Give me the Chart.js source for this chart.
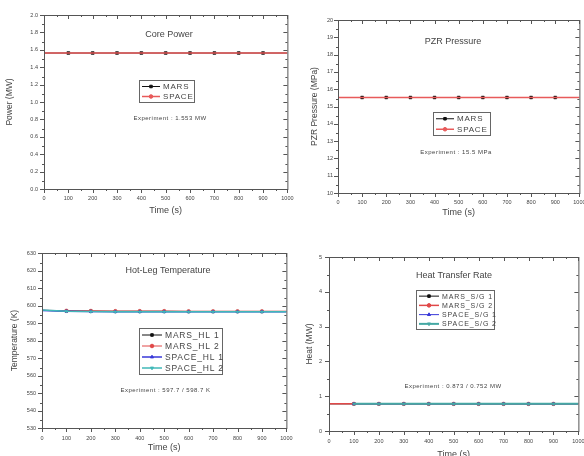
<!DOCTYPE html>
<html>
<head>
<meta charset="utf-8">
<script src="https://cdn.jsdelivr.net/npm/chart.js@4.4.0/dist/chart.umd.min.js"></script>
<style>
  html, body { margin: 0; padding: 0; background: #fff; overflow: hidden; }
  body { width: 584px; height: 456px; position: relative; }
  canvas { position: absolute; }
</style>
</head>
<body>
<canvas id="chartPower" width="300" height="224" style="left:0;top:0"></canvas>
<canvas id="chartPzr" width="296" height="224" style="left:296px;top:0"></canvas>
<canvas id="chartHotLeg" width="300" height="240" style="left:0;top:224px"></canvas>
<canvas id="chartHeat" width="296" height="240" style="left:296px;top:224px"></canvas>
<script>
// time axis (s)
const timeLabels = [0, 100, 200, 300, 400, 500, 600, 700, 800, 900, 1000];

// Core power (MW)
const marsPower  = [1.563, 1.563, 1.563, 1.563, 1.563, 1.563, 1.563, 1.563, 1.563, 1.563, 1.563];
const spacePower = [1.563, 1.563, 1.563, 1.563, 1.563, 1.563, 1.563, 1.563, 1.563, 1.563, 1.563];

// PZR pressure (MPa)
const marsPzr  = [15.52, 15.52, 15.52, 15.52, 15.52, 15.52, 15.52, 15.52, 15.52, 15.52, 15.52];
const spacePzr = [15.52, 15.52, 15.52, 15.52, 15.52, 15.52, 15.52, 15.52, 15.52, 15.52, 15.52];

// Hot-leg temperature (K)
const marsHL1  = [597.2, 596.9, 596.8, 596.7, 596.7, 596.7, 596.6, 596.6, 596.6, 596.6, 596.6];
const marsHL2  = [597.3, 597.0, 596.9, 596.8, 596.8, 596.8, 596.7, 596.7, 596.7, 596.7, 596.7];
const spaceHL1 = [597.1, 596.7, 596.5, 596.4, 596.4, 596.4, 596.4, 596.4, 596.4, 596.4, 596.4];
const spaceHL2 = [597.4, 596.7, 596.5, 596.4, 596.4, 596.4, 596.4, 596.4, 596.4, 596.4, 596.4];

// Heat transfer rate (MW)
const marsSG1  = [0.78, 0.78, 0.78, 0.78, 0.78, 0.78, 0.78, 0.78, 0.78, 0.78, 0.78];
const marsSG2  = [0.78, 0.78, 0.78, 0.78, 0.78, 0.78, 0.78, 0.78, 0.78, 0.78, 0.78];
const spaceSG1 = [null, 0.78, 0.78, 0.78, 0.78, 0.78, 0.78, 0.78, 0.78, 0.78, 0.78];
const spaceSG2 = [null, 0.78, 0.78, 0.78, 0.78, 0.78, 0.78, 0.78, 0.78, 0.78, 0.78];

const FONT = "'Liberation Sans', Arial, sans-serif";
const TEXT = '#444';

// frame with origin-style ticks, title, experiment note and boxed legend
const framePlugin = {
  id: 'frame',
  afterDatasetsDraw(chart, args, opts) {
    const { ctx, chartArea: a, scales: { x, y } } = chart;
    ctx.save();
    ctx.strokeStyle = '#555';
    ctx.lineWidth = 1;
    ctx.strokeRect(a.left + 0.5, a.top + 0.5, a.right - a.left, a.bottom - a.top);

    ctx.beginPath();
    const xs = x.ticks.map(t => Math.round(x.getPixelForValue(t.value)) + 0.5);
    xs.forEach((px, i) => {
      ctx.moveTo(px, a.bottom); ctx.lineTo(px, a.bottom + 4);
      ctx.moveTo(px, a.top); ctx.lineTo(px, a.top + 4);
      if (i < xs.length - 1) {
        const m = Math.round((px + xs[i + 1]) / 2) + 0.5;
        ctx.moveTo(m, a.bottom); ctx.lineTo(m, a.bottom + 2);
        ctx.moveTo(m, a.top); ctx.lineTo(m, a.top + 2);
      }
    });
    const ys = y.ticks.map(t => Math.round(y.getPixelForValue(t.value)) + 0.5);
    ys.forEach((py, i) => {
      ctx.moveTo(a.left, py); ctx.lineTo(a.left - 4, py);
      ctx.moveTo(a.right, py); ctx.lineTo(a.right - 4, py);
      if (i < ys.length - 1) {
        const m = Math.round((py + ys[i + 1]) / 2) + 0.5;
        ctx.moveTo(a.left, m); ctx.lineTo(a.left - 2, m);
        ctx.moveTo(a.right, m); ctx.lineTo(a.right - 2, m);
      }
    });
    ctx.stroke();

    ctx.fillStyle = TEXT;
    ctx.textAlign = 'center';
    ctx.textBaseline = 'middle';
    ctx.font = '9px ' + FONT;
    ctx.fillText(opts.title, opts.titlePos[0], opts.titlePos[1]);
    ctx.font = '6px ' + FONT;
    ctx.letterSpacing = '0.5px';
    ctx.fillText(opts.note, opts.notePos[0], opts.notePos[1]);

    const lg = opts.legend;
    const sets = chart.data.datasets;
    ctx.strokeStyle = '#666';
    ctx.strokeRect(lg.x + 0.5, lg.y + 0.5, lg.w, lg.rowH * sets.length + 2);
    ctx.font = lg.size + 'px ' + FONT;
    ctx.letterSpacing = lg.spacing + 'px';
    ctx.textAlign = 'left';
    sets.forEach((ds, i) => {
      const cy = lg.y + 1.5 + lg.rowH * (i + 0.5);
      const x0 = lg.x + 3, x1 = x0 + lg.sample;
      ctx.strokeStyle = ds.borderColor;
      ctx.lineWidth = ds.borderWidth;
      ctx.beginPath(); ctx.moveTo(x0, cy); ctx.lineTo(x1, cy); ctx.stroke();
      ctx.fillStyle = ds.borderColor;
      ctx.lineWidth = 1;
      Chart.helpers.drawPoint(ctx, { pointStyle: ds.pointStyle, rotation: ds.pointRotation, radius: 1.8, borderWidth: 1 }, (x0 + x1) / 2, cy);
      ctx.fillStyle = TEXT;
      ctx.fillText(ds.label, x1 + 3, cy + 0.5);
    });
    ctx.restore();
  }
};

function makeChart(id, cfg) {
  const canvas = document.getElementById(id);
  const W = canvas.width, H = canvas.height, box = cfg.area;
  return new Chart(canvas, {
    type: 'line',
    data: {
      datasets: cfg.series.map(s => ({
        label: s.label,
        data: timeLabels.map((t, i) => ({ x: t, y: s.values[i] })),
        borderColor: s.color,
        backgroundColor: s.color,
        borderWidth: s.width || 1,
        pointStyle: s.marker,
        pointRotation: s.rot || 0,
        pointRadius: c => (c.raw && (c.raw.x === 0 || c.raw.x === 1000)) ? 0 : (s.radius === undefined ? 1.8 : s.radius),
        pointBorderWidth: 0.5,
        tension: 0,
        order: s.order
      }))
    },
    options: {
      responsive: false,
      animation: false,
      devicePixelRatio: 1,
      layout: { padding: { left: 0, top: box.top, right: W - box.right, bottom: 0 } },
      plugins: {
        legend: { display: false },
        tooltip: { enabled: false },
        frame: cfg.frame
      },
      scales: {
        x: {
          type: 'linear',
          min: 0,
          max: 1000,
          grid: { display: false, drawTicks: false },
          border: { display: false },
          ticks: { stepSize: 100, autoSkip: false, maxRotation: 0, padding: cfg.xPad, color: TEXT, font: { family: FONT, size: 5.5 },
                   callback: v => String(v) },
          title: { display: true, text: 'Time (s)', color: TEXT, font: { family: FONT, size: 9 }, padding: { top: 0, bottom: cfg.xTitlePad } },
          afterFit: s => { s.height = H - box.bottom; }
        },
        y: {
          min: cfg.yMin,
          max: cfg.yMax,
          grid: { display: false, drawTicks: false },
          border: { display: false },
          ticks: { stepSize: cfg.yStep, autoSkip: false, padding: cfg.yPad, color: TEXT, font: { family: FONT, size: 5.5 },
                   callback: v => v.toFixed(cfg.yDigits) },
          title: { display: true, text: cfg.yTitle, color: TEXT, font: { family: FONT, size: 8.5 }, padding: { top: cfg.yTitlePad, bottom: 0 } },
          afterFit: s => { s.width = box.left; }
        }
      }
    },
    plugins: [framePlugin]
  });
}

makeChart('chartPower', {
  area: { left: 44, top: 15, right: 293, bottom: 189 },
  yMin: 0, yMax: 2, yStep: 0.2, yDigits: 1, yTitle: 'Power (MW)',
  xPad: 6.5, yPad: 6, xTitlePad: 7.6, yTitlePad: 4.9,
  series: [
    { label: 'MARS', values: marsPower, color: '#111', marker: 'rect', radius: 2, order: 1 },
    { label: 'SPACE', values: spacePower, color: '#e85a5a', marker: 'circle', width: 1.5, radius: 0, order: 0 }
  ],
  frame: {
    title: 'Core Power', titlePos: [169, 35],
    note: 'Experiment : 1.553 MW', notePos: [170, 118],
    legend: { x: 139, y: 80, w: 55, rowH: 10, sample: 18, size: 8, spacing: 0.8 }
  }
});

makeChart('chartPzr', {
  area: { left: 42, top: 20, right: 289, bottom: 193 },
  yMin: 10, yMax: 20, yStep: 1, yDigits: 0, yTitle: 'PZR Pressure (MPa)',
  xPad: 6.5, yPad: 5, xTitlePad: 5.6, yTitlePad: 13.9,
  series: [
    { label: 'MARS', values: marsPzr, color: '#111', marker: 'rect', radius: 2, order: 1 },
    { label: 'SPACE', values: spacePzr, color: '#e85a5a', marker: 'circle', width: 1.5, radius: 0, order: 0 }
  ],
  frame: {
    title: 'PZR Pressure', titlePos: [157, 42],
    note: 'Experiment : 15.5 MPa', notePos: [160, 152],
    legend: { x: 137, y: 112, w: 57, rowH: 10.5, sample: 18, size: 8, spacing: 0.8 }
  }
});

makeChart('chartHotLeg', {
  area: { left: 42, top: 29, right: 293, bottom: 204 },
  yMin: 530, yMax: 630, yStep: 10, yDigits: 0, yTitle: 'Temperature (K)',
  xPad: 7.5, yPad: 6, xTitlePad: 10.9, yTitlePad: 9.9,
  series: [
    { label: 'MARS_HL 1', values: marsHL1, color: '#111', marker: 'rect', order: 3 },
    { label: 'MARS_HL 2', values: marsHL2, color: '#e04848', marker: 'circle', order: 2 },
    { label: 'SPACE_HL 1', values: spaceHL1, color: '#3838d8', marker: 'triangle', width: 1.5, order: 1 },
    { label: 'SPACE_HL 2', values: spaceHL2, color: '#40b8b8', marker: 'triangle', rot: 180, width: 1.5, order: 0 }
  ],
  frame: {
    title: 'Hot-Leg Temperature', titlePos: [168, 46.7],
    note: 'Experiment : 597.7 / 598.7 K', notePos: [165.5, 166.7],
    legend: { x: 139, y: 104, w: 83, rowH: 11, sample: 20, size: 8.5, spacing: 0.8 }
  }
});

makeChart('chartHeat', {
  area: { left: 33, top: 33, right: 283, bottom: 207 },
  yMin: 0, yMax: 5, yStep: 1, yDigits: 0, yTitle: 'Heat (MW)',
  xPad: 7.5, yPad: 7, xTitlePad: 3.6, yTitlePad: 8.9,
  series: [
    { label: 'MARS_S/G 1', values: marsSG1, color: '#111', marker: 'rect', order: 3 },
    { label: 'MARS_S/G 2', values: marsSG2, color: '#e04848', marker: 'circle', width: 1.5, order: 2 },
    { label: 'SPACE_S/G 1', values: spaceSG1, color: '#3838d8', marker: 'triangle', order: 1 },
    { label: 'SPACE_S/G 2', values: spaceSG2, color: '#45a8a4', marker: 'triangle', rot: 180, width: 2, order: 0 }
  ],
  frame: {
    title: 'Heat Transfer Rate', titlePos: [158, 51.7],
    note: 'Experiment : 0.873 / 0.752 MW', notePos: [157, 162],
    legend: { x: 120, y: 66, w: 78, rowH: 9.25, sample: 20, size: 7, spacing: 0.9 }
  }
});
</script>
</body>
</html>
